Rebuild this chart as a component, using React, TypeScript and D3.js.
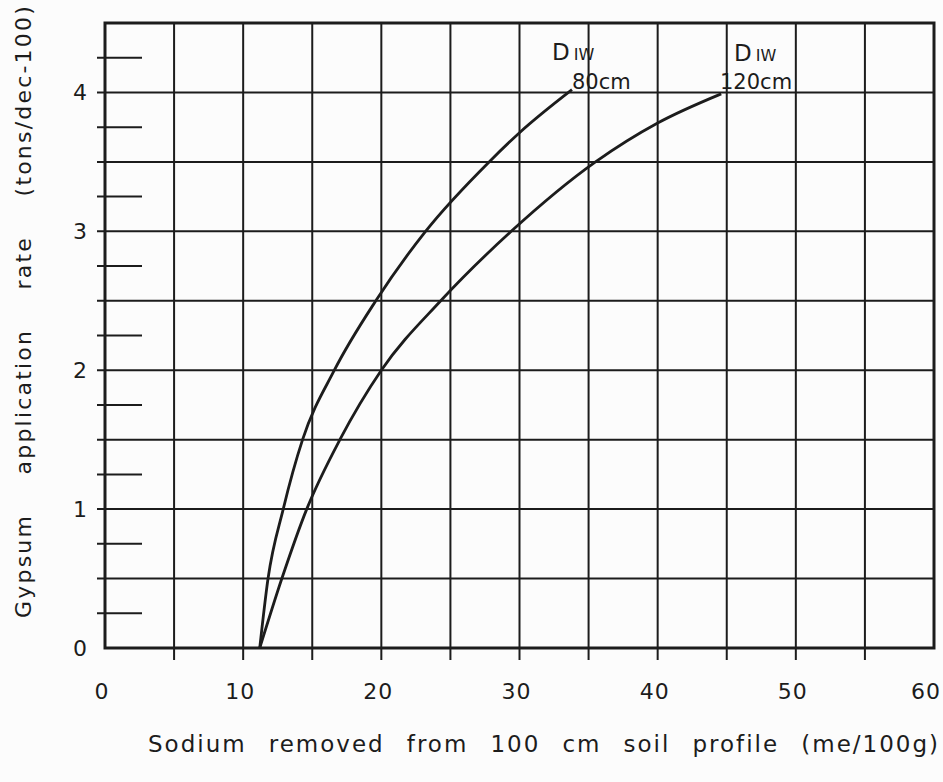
import React, { useEffect, useRef, useState } from "react";
import * as d3 from "d3";

const xTicks = [0, 10, 20, 30, 40, 50, 60];
const yTicks = [0, 1, 2, 3, 4];
const xGrid = [5, 10, 15, 20, 25, 30, 35, 40, 45, 50, 55];
const yGrid = [0.5, 1, 1.5, 2, 2.5, 3, 3.5, 4];
const yMinor = [0.25, 0.75, 1.25, 1.75, 2.25, 2.75, 3.25, 3.75, 4.25];

const diw80: [number, number][] = [
  [11.2, 0], [11.8, 0.5], [12.9, 1.0], [14.3, 1.5], [16.6, 2.0],
  [19.6, 2.5], [23.2, 3.0], [27.8, 3.5], [30, 3.71], [33.8, 4.02],
];
const diw120: [number, number][] = [
  [11.2, 0], [12.8, 0.5], [14.6, 1.0], [17.0, 1.5], [20.0, 2.0],
  [24.3, 2.5], [29.4, 3.0], [35.5, 3.5], [40, 3.78], [44.6, 3.99],
];

const xTitle = "Sodium removed from 100 cm soil profile (me/100g)";
const yTitle = "Gypsum application rate (tons/dec-100)";

const W = 943;
const H = 782;
const FONT = "'DejaVu Sans', sans-serif";
const INK = "#1c1c1c";

export default function App() {
  const x = d3.scaleLinear().domain([0, 60]).range([105, 934]);
  const y = d3.scaleLinear().domain([0, 4.5]).range([648, 23]);
  const line = d3
    .line<[number, number]>()
    .x((d) => x(d[0]))
    .y((d) => y(d[1]))
    .curve(d3.curveMonotoneX);

  const xRef = useRef<SVGTextElement>(null);
  const yRef = useRef<SVGTextElement>(null);
  const [xWs, setXWs] = useState(0);
  const [yWs, setYWs] = useState(0);

  useEffect(() => {
    if (xRef.current) {
      const len = xRef.current.getComputedTextLength();
      const spaces = xTitle.split(" ").length - 1;
      setXWs(Math.max(0, (792 - len) / spaces));
    }
    if (yRef.current) {
      const len = yRef.current.getComputedTextLength();
      const spaces = yTitle.split(" ").length - 1;
      setYWs(Math.max(0, (614 - len) / spaces));
    }
  }, []);

  return (
    <svg
      width={W}
      height={H}
      style={{ position: "absolute", left: 0, top: 0, background: "#fcfcfc" }}
      fontFamily={FONT}
    >
      {xGrid.map((v) => (
        <line key={"vx" + v} x1={x(v)} x2={x(v)} y1={y(4.5)} y2={y(0) + 12} stroke={INK} strokeWidth={2} />
      ))}
      {yGrid.map((v) => (
        <line key={"hy" + v} x1={x(0) - 8} x2={x(60)} y1={y(v)} y2={y(v)} stroke={INK} strokeWidth={2} />
      ))}
      {yMinor.map((v) => (
        <line key={"my" + v} x1={x(0) - 8} x2={x(0) + 37} y1={y(v)} y2={y(v)} stroke={INK} strokeWidth={2} />
      ))}
      <rect
        x={x(0)}
        y={y(4.5)}
        width={x(60) - x(0)}
        height={y(0) - y(4.5)}
        fill="none"
        stroke={INK}
        strokeWidth={3}
      />
      <path d={line(diw80) ?? ""} fill="none" stroke={INK} strokeWidth={2.8} />
      <path d={line(diw120) ?? ""} fill="none" stroke={INK} strokeWidth={2.8} />

      {xTicks.map((v) => (
        <text
          key={"xt" + v}
          x={Math.min(x(v) - 3, 926)}
          y={691}
          fontSize={22}
          textAnchor="middle"
          dominantBaseline="central"
          fill={INK}
          letterSpacing={1}
        >
          {v}
        </text>
      ))}
      {yTicks.map((v) => (
        <text key={"yt" + v} x={80} y={y(v)} fontSize={22} textAnchor="middle" dominantBaseline="central" fill={INK}>
          {v}
        </text>
      ))}

      <text x={552} y={60} fontSize={23} fill={INK}>
        D<tspan fontSize={16} dx={4}>IW</tspan>
      </text>
      <text x={572} y={89} fontSize={21} fill={INK}>
        80cm
      </text>
      <text x={734} y={61} fontSize={23} fill={INK}>
        D<tspan fontSize={16} dx={4}>IW</tspan>
      </text>
      <text x={720} y={89} fontSize={21} fill={INK}>
        120cm
      </text>

      <text
        ref={yRef}
        transform={`translate(31, 311) rotate(-90)`}
        fontSize={22}
        textAnchor="middle"
        fill={INK}
        letterSpacing={2.2}
        wordSpacing={yWs}
      >
        {yTitle}
      </text>
      <text ref={xRef} x={148} y={752} fontSize={23} fill={INK} letterSpacing={2} wordSpacing={xWs}>
        {xTitle}
      </text>
    </svg>
  );
}
